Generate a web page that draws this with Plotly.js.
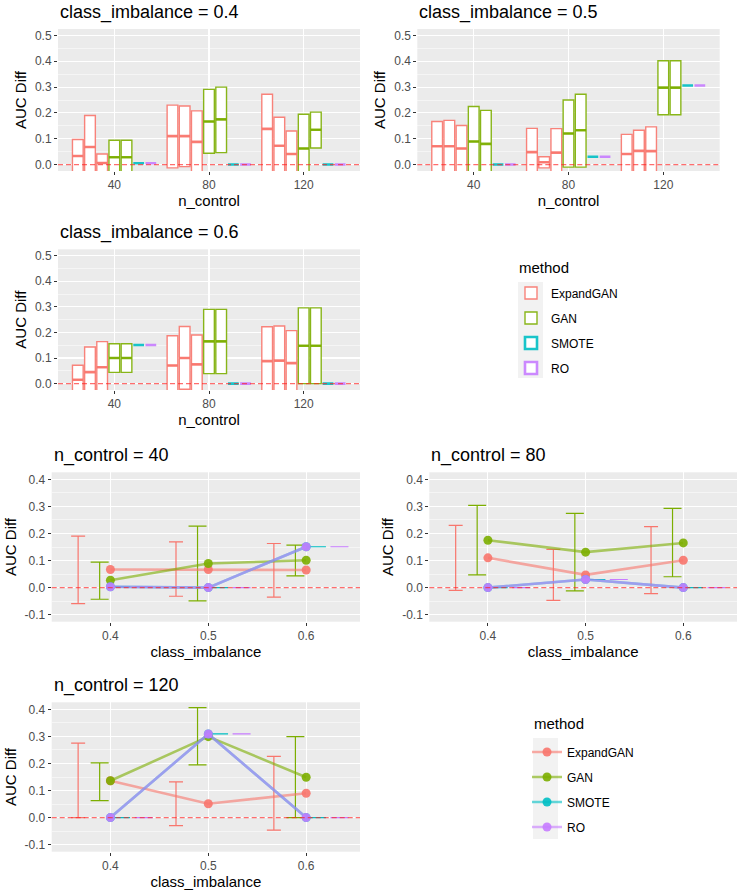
<!DOCTYPE html>
<html><head><meta charset="utf-8">
<script src="https://cdn.plot.ly/plotly-3.0.1.min.js"></script>
<style>html,body{margin:0;padding:0;background:#fff}</style>
</head><body><div id="chart" style="width:744px;height:891px"></div>
<script>
// ---------------- data ----------------
const methods = ['ExpandGAN', 'GAN', 'SMOTE', 'RO'];
const nControl = [40, 80, 120];
const classImbalance = [0.4, 0.5, 0.6];
// box series drawn side by side at each n_control (dodged)
const boxSeries = ['ExpandGAN', 'ExpandGAN', 'ExpandGAN', 'GAN', 'GAN', 'SMOTE', 'RO'];

// class_imbalance = 0.4  (rows = boxSeries, columns = nControl)
const q1_04  = [[-0.06, -0.013, -0.06], [-0.06, -0.008, -0.06], [-0.06, -0.06, -0.06], [-0.06, 0.044, -0.06], [-0.06, 0.046, 0.064], [0.005, 0, 0], [0.005, 0, 0]];
const med_04 = [[0.033, 0.110, 0.138], [0.068, 0.110, 0.073], [0.006, 0.088, 0.041], [0.028, 0.167, 0.062], [0.028, 0.175, 0.135], [0.005, 0, 0], [0.005, 0, 0]];
const q3_04  = [[0.097, 0.230, 0.272], [0.190, 0.227, 0.183], [0.041, 0.208, 0.130], [0.094, 0.291, 0.195], [0.094, 0.300, 0.203], [0.005, 0, 0], [0.005, 0, 0]];
// class_imbalance = 0.5
const q1_05  = [[-0.06, -0.06, -0.06], [-0.06, -0.013, -0.06], [-0.06, -0.06, -0.06], [-0.06, -0.010, 0.193], [-0.06, -0.010, 0.193], [0, 0.03, 0.306], [0, 0.03, 0.306]];
const med_05 = [[0.071, 0.048, 0.041], [0.071, 0.009, 0.053], [0.062, 0.046, 0.052], [0.089, 0.120, 0.298], [0.080, 0.133, 0.298], [0, 0.03, 0.306], [0, 0.03, 0.306]];
const q3_05  = [[0.167, 0.140, 0.117], [0.171, 0.030, 0.133], [0.151, 0.139, 0.146], [0.225, 0.250, 0.402], [0.210, 0.272, 0.402], [0, 0.03, 0.306], [0, 0.03, 0.306]];
// class_imbalance = 0.6
const q1_06  = [[-0.06, -0.06, -0.06], [-0.06, -0.022, -0.06], [-0.06, -0.06, -0.06], [0.044, 0.039, 0.0], [0.044, 0.039, 0.0], [0.151, 0, 0], [0.151, 0, 0]];
const med_06 = [[0.015, 0.071, 0.088], [0.045, 0.100, 0.090], [0.064, 0.075, 0.080], [0.100, 0.165, 0.148], [0.100, 0.165, 0.148], [0.151, 0, 0], [0.151, 0, 0]];
const q3_06  = [[0.072, 0.187, 0.222], [0.143, 0.223, 0.225], [0.164, 0.190, 0.207], [0.156, 0.290, 0.296], [0.156, 0.290, 0.296], [0.151, 0, 0], [0.151, 0, 0]];

// line panels: rows = methods, columns = classImbalance
const mean_40 = [[0.067, 0.067, 0.065], [0.027, 0.089, 0.101], [0.003, 0, 0.151], [0.003, 0, 0.151]];
const lo_40   = [[-0.059, -0.032, -0.035], [-0.043, -0.049, 0.043], [0.003, 0, 0.151], [0.003, 0, 0.151]];
const hi_40   = [[0.190, 0.169, 0.163], [0.094, 0.227, 0.157], [0.003, 0, 0.151], [0.003, 0, 0.151]];
const mean_80 = [[0.110, 0.047, 0.101], [0.175, 0.131, 0.165], [0, 0.030, 0], [0, 0.030, 0]];
const lo_80   = [[-0.010, -0.047, -0.022], [0.047, -0.012, 0.040], [0, 0.030, 0], [0, 0.030, 0]];
const hi_80   = [[0.230, 0.141, 0.225], [0.304, 0.274, 0.293], [0, 0.030, 0], [0, 0.030, 0]];
const mean_120 = [[0.136, 0.051, 0.090], [0.136, 0.299, 0.149], [0, 0.309, 0], [0, 0.309, 0]];
const lo_120   = [[0.000, -0.030, -0.046], [0.063, 0.195, 0.000], [0, 0.309, 0], [0, 0.309, 0]];
const hi_120   = [[0.275, 0.132, 0.226], [0.202, 0.406, 0.299], [0, 0.309, 0], [0, 0.309, 0]];

const boxYTicks = [0, 0.1, 0.2, 0.3, 0.4, 0.5];
const boxYTickText = ['0.0', '0.1', '0.2', '0.3', '0.4', '0.5'];
const lineYTicks = [-0.1, 0, 0.1, 0.2, 0.3, 0.4];
const lineYTickText = ['-0.1', '0.0', '0.1', '0.2', '0.3', '0.4'];

// ---------------- styling ----------------
const colors = {ExpandGAN: '#F8766D', GAN: '#7CAE00', SMOTE: '#00BFC4', RO: '#C77CFF'};
const rgba = (hex, a) => {
  const n = parseInt(hex.slice(1), 16);
  return `rgba(${(n >> 16) & 255},${(n >> 8) & 255},${n & 255},${a})`;
};
const FONT = 'Liberation Sans, Arial, Helvetica, sans-serif';
const W = 744, H = 891;
const px = p => p / W;
const py = p => 1 - p / H;
const dodge = [-0.033, -0.011, 0.011, 0.034];
const capW = [7, 9, 9, 9];
const ax = (c, i) => (i === 1 ? c : c + i);

const traces = [];
const layout = {
  width: W, height: H,
  margin: {l: 0, r: 0, t: 0, b: 0},
  paper_bgcolor: '#FFFFFF', plot_bgcolor: '#EBEBEB',
  font: {family: FONT, size: 12, color: '#000000'},
  boxmode: 'group', boxgap: 0.1, boxgroupgap: 0.12,
  showlegend: true,
  annotations: [], shapes: []
};

function addAxes(i, xPix, yPix, xcfg, ycfg, xTitle) {
  layout[ax('xaxis', i)] = Object.assign({
    domain: [px(xPix[0]), px(xPix[1])], anchor: ax('y', i),
    showgrid: true, gridcolor: '#FFFFFF', gridwidth: 1.1, zeroline: false, showline: false,
    ticks: 'outside', ticklen: 3, tickcolor: '#333333', tickwidth: 1,
    tickfont: {size: 12, color: '#4D4D4D', family: FONT},
    automargin: false, fixedrange: true,
    title: {text: xTitle, font: {size: 15, color: '#000000', family: FONT}, standoff: 2}
  }, xcfg);
  layout[ax('yaxis', i)] = Object.assign({
    domain: [py(yPix[1]), py(yPix[0])], anchor: ax('x', i),
    showgrid: true, gridcolor: '#FFFFFF', gridwidth: 1.1, zeroline: false, showline: false,
    ticks: 'outside', ticklen: 3, tickcolor: '#333333', tickwidth: 1,
    tickfont: {size: 12, color: '#4D4D4D', family: FONT},
    minor: {dtick: 0.05, tick0: 0, showgrid: true, gridcolor: '#FFFFFF', gridwidth: 0.5, ticks: ''},
    automargin: false, fixedrange: true,
    title: {text: 'AUC Diff', font: {size: 15, color: '#000000', family: FONT}, standoff: 4}
  }, ycfg);
  layout.shapes.push({
    type: 'line', xref: ax('x', i) + ' domain', yref: ax('y', i), x0: 0, x1: 1, y0: 0, y1: 0,
    line: {color: 'rgba(255,30,30,0.65)', width: 1.2, dash: '5px,3px'}, layer: 'above'
  });
}

function addText(text, xPix, yPix, size) {
  layout.annotations.push({
    text: text, xref: 'paper', yref: 'paper', x: px(xPix), y: py(yPix),
    xanchor: 'left', yanchor: 'middle', showarrow: false,
    font: {size: size, color: '#000000', family: FONT}
  });
}

// ---------- box panels ----------
const boxPanels = [
  {i: 1, q1: q1_04, med: med_04, q3: q3_04, title: 'class_imbalance = 0.4', x: [58, 360], y: [29, 171]},
  {i: 2, q1: q1_05, med: med_05, q3: q3_05, title: 'class_imbalance = 0.5', x: [417.3, 719.7], y: [29, 171]},
  {i: 3, q1: q1_06, med: med_06, q3: q3_06, title: 'class_imbalance = 0.6', x: [58, 360], y: [249.3, 390]}
];
boxPanels.forEach((p, pi) => {
  boxSeries.forEach((m, k) => {
    const flat = (m === 'SMOTE' || m === 'RO');
    const common = {
      type: 'box', x: nControl, xaxis: ax('x', p.i), yaxis: ax('y', p.i),
      offsetgroup: 'slot' + k, alignmentgroup: 'boxes',
      name: m, legendgroup: 'b_' + m, legend: 'legend',
      fillcolor: '#FFFFFF', whiskerwidth: 0, boxpoints: false, hoverinfo: 'skip'
    };
    traces.push(Object.assign({}, common, {
      q1: p.q1[k], median: p.med[k], q3: p.q3[k],
      lowerfence: p.q1[k], upperfence: p.q3[k],
      showlegend: pi === 0 && boxSeries.indexOf(m) === k,
      line: {color: rgba(colors[m], 0.9), width: flat ? 2.6 : 1.4}
    }));
    if (!flat) {
      // thicker median bar (ggplot "fatten"), drawn from the same median values
      traces.push(Object.assign({}, common, {
        q1: p.med[k], median: p.med[k], q3: p.med[k],
        lowerfence: p.med[k], upperfence: p.med[k],
        showlegend: false, fillcolor: 'rgba(0,0,0,0)',
        line: {color: rgba(colors[m], 0.9), width: 2.6}
      }));
    }
  });
  addAxes(p.i, p.x, p.y,
    {range: [16.2, 143.8], tickvals: nControl, ticktext: nControl.map(String)},
    {range: [-0.025, 0.525], tickvals: boxYTicks, ticktext: boxYTickText},
    'n_control');
  addText(p.title, p.x[0], p.y[0] - 17, 18);
});

// ---------- line panels ----------
const linePanels = [
  {i: 4, mean: mean_40, lo: lo_40, hi: hi_40, title: 'n_control = 40', x: [51.7, 360], y: [472.3, 621.7]},
  {i: 5, mean: mean_80, lo: lo_80, hi: hi_80, title: 'n_control = 80', x: [429.3, 737], y: [472.3, 621.7]},
  {i: 6, mean: mean_120, lo: lo_120, hi: hi_120, title: 'n_control = 120', x: [51.7, 360], y: [702.3, 851.7]}
];
linePanels.forEach((p, pi) => {
  methods.forEach((m, k) => {
    traces.push({
      type: 'scatter', mode: 'markers',
      x: classImbalance.map(v => v + dodge[k]), y: p.mean[k],
      error_y: {type: 'data', symmetric: false,
        array: p.hi[k].map((h, j) => h - p.mean[k][j]),
        arrayminus: p.mean[k].map((v, j) => v - p.lo[k][j]),
        color: colors[m], thickness: 1.2, width: capW[k]},
      marker: {opacity: 0, size: 2},
      xaxis: ax('x', p.i), yaxis: ax('y', p.i), showlegend: false, hoverinfo: 'skip'
    });
  });
  methods.forEach((m, k) => {
    traces.push({
      type: 'scatter', mode: 'lines+markers', x: classImbalance, y: p.mean[k],
      line: {color: rgba(colors[m], 0.6), width: 2.6},
      marker: {color: rgba(colors[m], 0.9), size: 9},
      name: m, legendgroup: 'l_' + m, legend: 'legend2',
      showlegend: pi === 0,
      xaxis: ax('x', p.i), yaxis: ax('y', p.i), hoverinfo: 'skip'
    });
  });
  addAxes(p.i, p.x, p.y,
    {range: [0.34, 0.655], tickvals: classImbalance, ticktext: classImbalance.map(v => v.toFixed(1))},
    {range: [-0.126, 0.426], tickvals: lineYTicks, ticktext: lineYTickText},
    'class_imbalance');
  addText(p.title, p.x[0], p.y[0] - 17, 18);
});

// ---------- legends ----------
const legendBase = {
  xanchor: 'left', yanchor: 'top', bgcolor: 'rgba(0,0,0,0)', borderwidth: 0,
  font: {size: 12, color: '#000000', family: FONT}, tracegroupgap: 6, itemclick: false, itemdoubleclick: false
};
layout.legend = Object.assign({x: px(511), y: py(278.5)}, legendBase);
layout.legend2 = Object.assign({x: px(527), y: py(737.5)}, legendBase);
addText('method', 517, 267, 15);
addText('method', 532, 723, 15);
layout.shapes.push({type: 'rect', xref: 'paper', yref: 'paper', x0: px(518), x1: px(543), y0: py(378), y1: py(282),
  fillcolor: '#F2F2F2', line: {width: 0}, layer: 'below'});
layout.shapes.push({type: 'rect', xref: 'paper', yref: 'paper', x0: px(533), x1: px(558), y0: py(839), y1: py(738),
  fillcolor: '#F2F2F2', line: {width: 0}, layer: 'below'});

Plotly.newPlot('chart', traces, layout, {displayModeBar: false, staticPlot: true});
</script>
</body></html>
